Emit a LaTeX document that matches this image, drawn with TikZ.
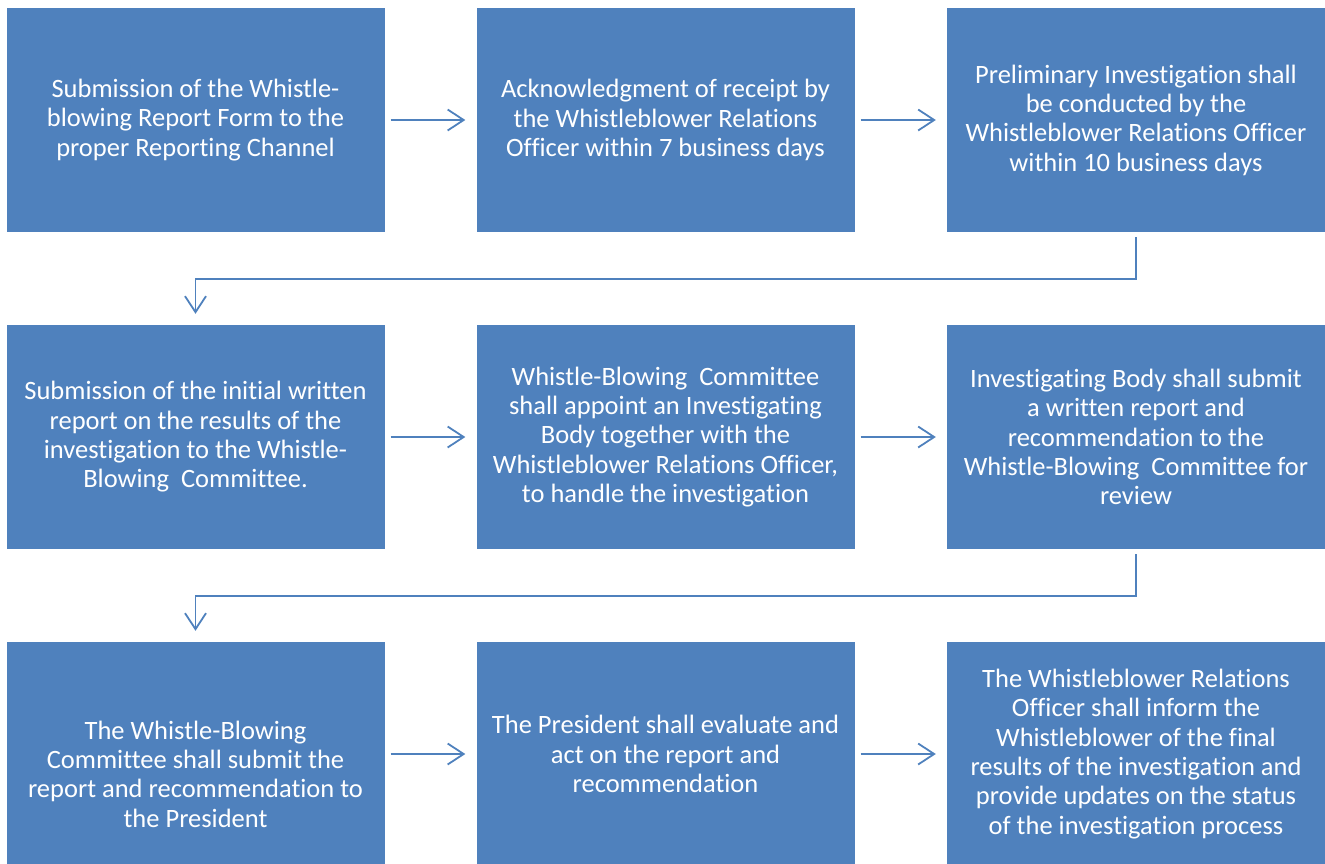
\documentclass[tikz,border=0pt]{standalone}
\usepackage{fontspec}
\setmainfont[Ligatures={NoCommon}]{Carlito}
\usetikzlibrary{arrows.meta}
\definecolor{boxblue}{RGB}{79,129,189}
\tikzset{
stepbox/.style={fill=boxblue,draw=none,text=white,align=center,
  minimum width=378pt,minimum height=224pt,inner sep=0pt,
  font=\fontsize{26.5}{29.3}\selectfont},
flow/.style={draw=boxblue,line width=1.8pt,
  -{Straight Barb[length=16pt,width=21pt,line width=1.8pt]}},
}
\begin{document}
\begin{tikzpicture}[x=1pt,y=-1pt]
\useasboundingbox (0,0) rectangle (1325,863);

\node[stepbox] (s1) at (195.5,120) {Submission of the Whistle-\\blowing Report Form to the\\proper Reporting Channel};
\node[stepbox] (s2) at (665.5,120) {Acknowledgment of receipt by\\the Whistleblower Relations\\Officer within 7 business days};
\node[stepbox] (s3) at (1136,120) {Preliminary Investigation shall\\be conducted by the\\Whistleblower Relations Officer\\within 10 business days};

\node[stepbox] (s4) at (195.5,437) {Submission of the initial written\\report on the results of the\\investigation to the Whistle-\\Blowing\ \ Committee.};
\node[stepbox] (s5) at (665.5,437) {Whistle-Blowing\ \ Committee\\shall appoint an Investigating\\Body together with the\\Whistleblower Relations Officer,\\to handle the investigation};
\node[stepbox] (s6) at (1136,437) {Investigating Body shall submit\\a written report and\\recommendation to the\\Whistle-Blowing\ \ Committee for\\review};

\node[stepbox] (s7) at (195.5,754) {};
\node[text=white,align=center,font=\fontsize{26.5}{29.3}\selectfont] (t7) at (195.5,774) {The Whistle-Blowing\\Committee shall submit the\\report and recommendation to\\the President};
\node[stepbox] (s8) at (665.5,754) {The President shall evaluate and\\act on the report and\\recommendation};
\node[stepbox] (s9) at (1136,754) {The Whistleblower Relations\\Officer shall inform the\\Whistleblower of the final\\results of the investigation and\\provide updates on the status\\of the investigation process};

% row arrows
\draw[flow,shorten <=6pt,shorten >=11pt] (s1) -- (s2);
\draw[flow,shorten <=6pt,shorten >=11pt] (s2) -- (s3);
\draw[flow,shorten <=6pt,shorten >=11pt] (s4) -- (s5);
\draw[flow,shorten <=6pt,shorten >=11pt] (s5) -- (s6);
\draw[flow,shorten <=6pt,shorten >=11pt] (s7) -- (s8);
\draw[flow,shorten <=6pt,shorten >=11pt] (s8) -- (s9);

% elbows down to the next row
\draw[flow,shorten <=5pt,shorten >=11pt] (s3.south) -- ++(0,47) -| (s4.north);
\draw[flow,shorten <=5pt,shorten >=11pt] (s6.south) -- ++(0,47) -| (s7.north);
\end{tikzpicture}
\end{document}
